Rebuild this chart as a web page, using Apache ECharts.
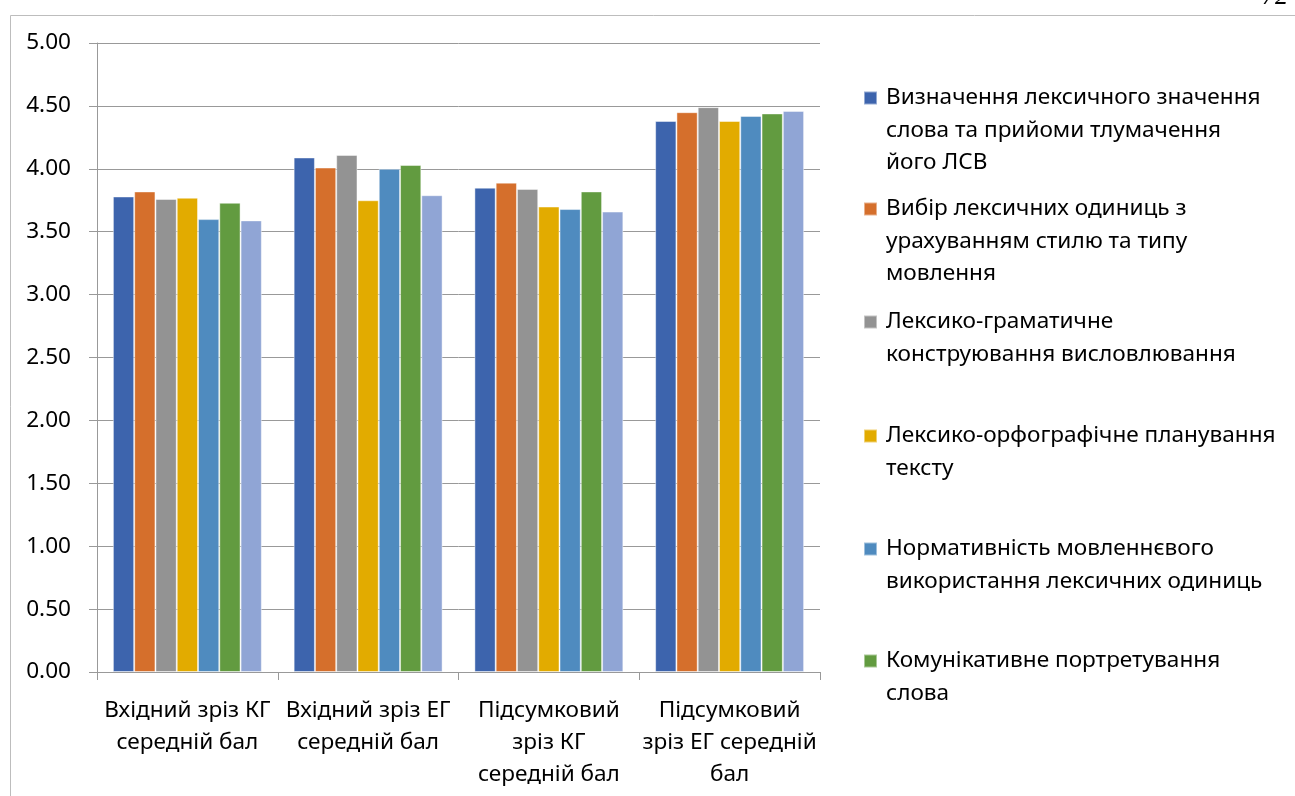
<!DOCTYPE html>
<html>
<head>
<meta charset="utf-8">
<script src="https://cdn.jsdelivr.net/npm/echarts@6/dist/echarts.min.js"></script>
<style>
html,body{margin:0;padding:0;background:#fff;}
#chart{width:1295px;height:796px;}
</style>
</head>
<body>
<div id="chart"></div>
<script>
const categories = [
  "Вхідний зріз КГ\nсередній бал",
  "Вхідний зріз ЕГ\nсередній бал",
  "Підсумковий\nзріз КГ\nсередній бал",
  "Підсумковий\nзріз ЕГ середній\nбал"
];
const seriesNames = [
  "Визначення лексичного значення слова та прийоми тлумачення його ЛСВ",
  "Вибір лексичних одиниць з урахуванням стилю та типу мовлення",
  "Лексико-граматичне конструювання висловлювання",
  "Лексико-орфографічне планування тексту",
  "Нормативність мовленнєвого використання лексичних одиниць",
  "Комунікативне портретування слова",
  "Ряд 7"
];
const legendLines = [
  ["Визначення лексичного значення", "слова та прийоми тлумачення", "його ЛСВ"],
  ["Вибір лексичних одиниць з", "урахуванням стилю та типу", "мовлення"],
  ["Лексико-граматичне", "конструювання висловлювання"],
  ["Лексико-орфографічне планування", "тексту"],
  ["Нормативність мовленнєвого", "використання лексичних одиниць"],
  ["Комунікативне портретування", "слова"]
];
const s1 = [3.78, 4.09, 3.85, 4.38];
const s2 = [3.82, 4.01, 3.89, 4.45];
const s3 = [3.76, 4.11, 3.84, 4.49];
const s4 = [3.77, 3.75, 3.70, 4.38];
const s5 = [3.60, 4.00, 3.68, 4.42];
const s6 = [3.73, 4.03, 3.82, 4.44];
const s7 = [3.59, 3.79, 3.66, 4.46];
const allValues = [s1, s2, s3, s4, s5, s6, s7];
const colors = ["#3D64AD", "#D56F2C", "#939393", "#E2AB00", "#4F8BBF", "#629B40", "#90A5D5"];

const FONT = "Noto Sans";
const FS = 22.6;
const LH = 32.5;
const legendFirstLineY = [98, 209, 322, 436, 549, 661];

const legends = legendLines.map((lines, i) => {
  const k = lines.length - 1;
  const T = 2 * k + 1;
  const text = "\n".repeat(k) + lines.join("\n");
  return {
    show: true,
    orient: "vertical",
    left: 863,
    top: legendFirstLineY[i] - T * LH / 2,
    padding: 0,
    icon: "rect",
    itemWidth: 13,
    itemHeight: 13,
    data: [seriesNames[i]],
    selectedMode: false,
    formatter: () => text,
    textStyle: { fontFamily: FONT, fontSize: FS, lineHeight: LH, color: "#000", padding: [0, 0, 0, 4] }
  };
});

const chart = echarts.init(document.getElementById("chart"), null, { renderer: "canvas" });
chart.setOption({
  animation: false,
  color: colors,
  textStyle: { fontFamily: FONT },
  grid: { left: 97, right: 475, top: 43, bottom: 124, containLabel: false },
  legend: legends,
  graphic: [
    { type: "rect", left: 8, top: 13, shape: { x: 0, y: 0, width: 1400, height: 900 }, style: { fill: "none", stroke: "#BDBDBD", lineWidth: 1 }, silent: true, z: -1 },
    { type: "text", left: 1262, top: -16, style: { text: "72", fontFamily: "Liberation Serif", fontStyle: "italic", fontSize: 26, fill: "#000" }, silent: true }
  ],
  xAxis: {
    type: "category",
    data: categories,
    axisLine: { show: true, lineStyle: { color: "#999", width: 1 } },
    axisTick: { show: true, length: 8, alignWithLabel: false, lineStyle: { color: "#999" } },
    axisLabel: { interval: 0, margin: 23, fontFamily: FONT, fontSize: FS, lineHeight: 32, color: "#000" },
    splitLine: { show: false }
  },
  yAxis: {
    type: "value",
    min: 0, max: 5, interval: 0.5,
    axisLine: { show: true, lineStyle: { color: "#999", width: 1 } },
    axisTick: { show: true, length: 8, lineStyle: { color: "#999" } },
    axisLabel: { margin: 26, fontFamily: FONT, fontSize: FS, color: "#000", formatter: v => v.toFixed(2) },
    splitLine: { show: true, lineStyle: { color: "#999", width: 1 } }
  },
  series: allValues.map((vals, i) => ({
    type: "bar",
    name: seriesNames[i],
    data: vals,
    barGap: "0%",
    barCategoryGap: "17.6%",
    itemStyle: { color: colors[i], borderColor: "rgba(255,255,255,0.45)", borderWidth: 1 }
  }))
});
</script>
</body>
</html>
